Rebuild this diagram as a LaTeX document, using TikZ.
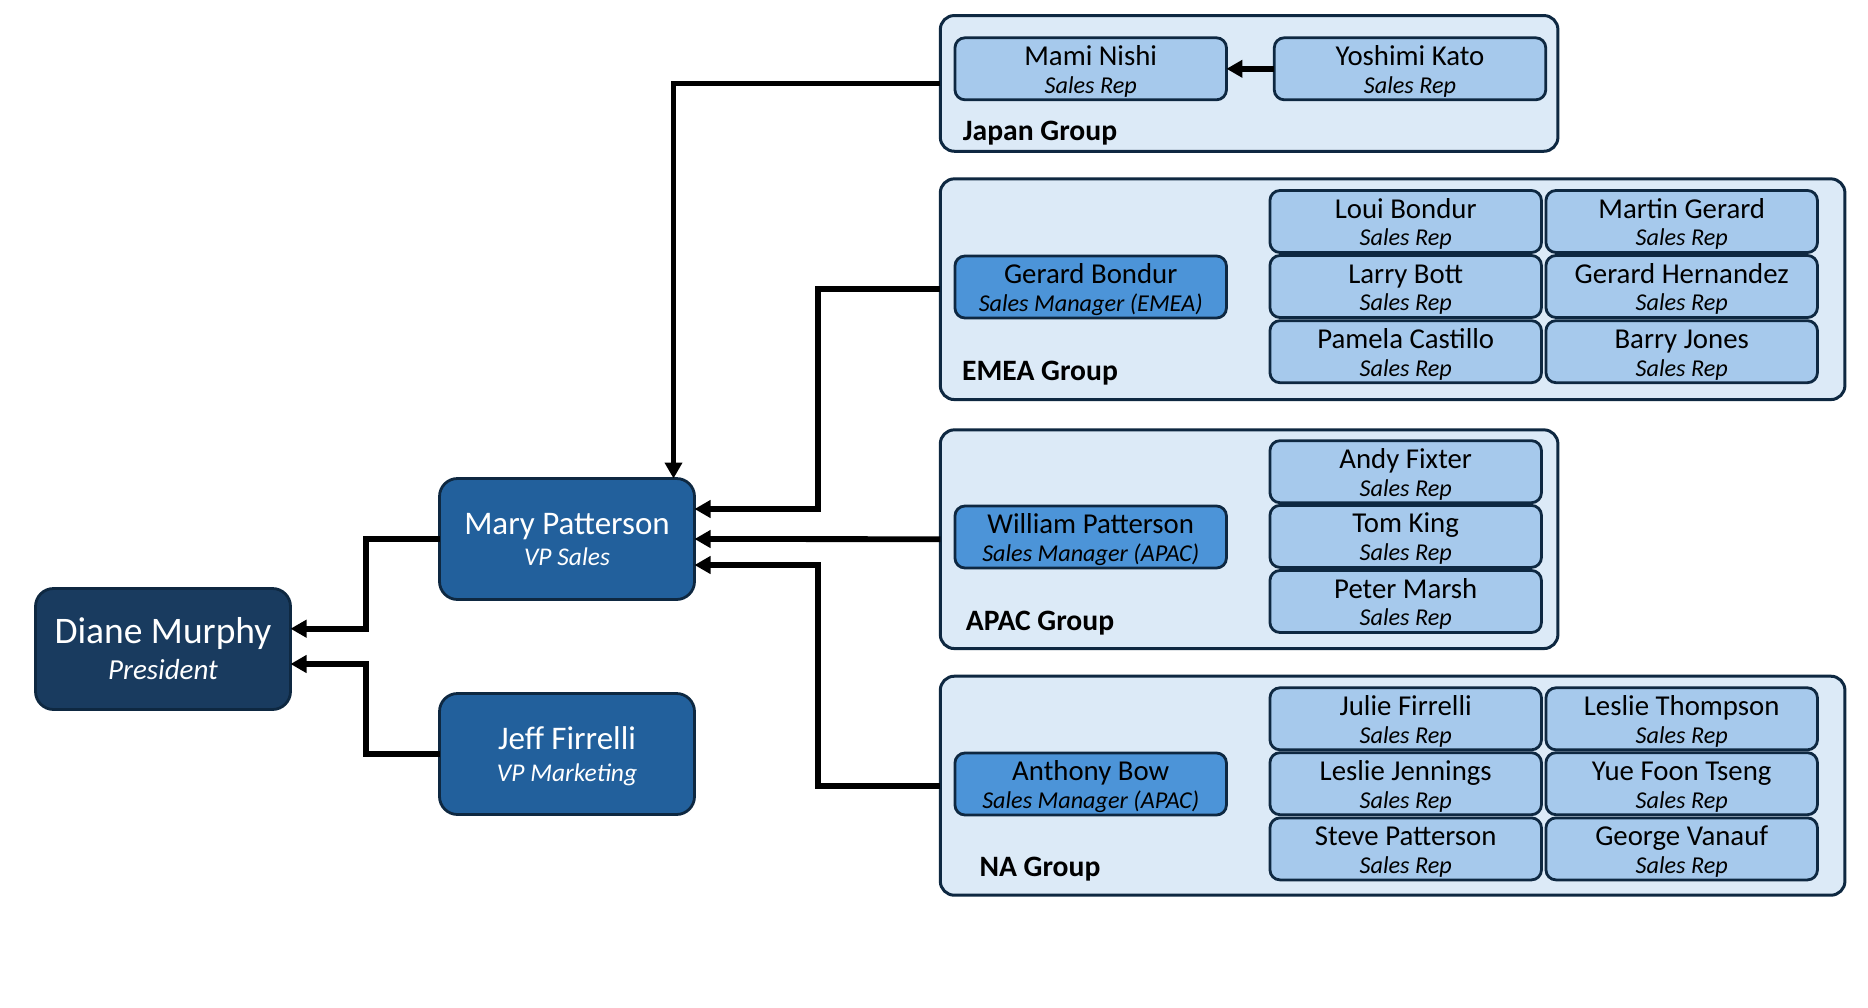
\documentclass[tikz,border=0pt]{standalone}
\usepackage{fontspec}
\setmainfont{Carlito}
\usetikzlibrary{arrows.meta}
\definecolor{pres}{HTML}{193B5F}
\definecolor{vp}{HTML}{22609C}
\definecolor{mgr}{HTML}{4C94D8}
\definecolor{rep}{HTML}{A6C9EC}
\definecolor{grp}{HTML}{DCEAF7}
\definecolor{edgec}{HTML}{0E2841}
\tikzset{
  grpbox/.style={draw=edgec, fill=grp, line width=3pt, rounded corners=14pt, inner sep=0pt, outer sep=0pt},
  smallbox/.style={draw=edgec, line width=2.8pt, rounded corners=10pt, minimum width=271.5pt, minimum height=62pt, inner sep=0pt, outer sep=0pt},
  bigbox/.style={draw=edgec, line width=2.8pt, rounded corners=18pt, minimum width=255pt, minimum height=121pt, inner sep=0pt, outer sep=0pt},
  smalln/.style={anchor=base, inner sep=0pt, font=\fontsize{28.8}{30}\selectfont, text=black},
  smallt/.style={anchor=base, inner sep=0pt, font=\fontsize{24.2}{26}\selectfont\itshape, text=black},
  grplabel/.style={anchor=base, inner sep=0pt, font=\fontsize{29.6}{32}\selectfont\bfseries, text=black},
  conn/.style={line width=5.8pt, draw=black, -{Triangle[length=16pt,width=17pt]}},
}
\newcommand\smallp[5]{%
  \node[smallbox, fill=#2] (#1) at (#3) {};
  \node[smalln] (#1-n) at ([yshift=3.5pt]#1.center) {#4};
  \node[smallt] (#1-t) at ([yshift=-24.3pt]#1.center) {#5};}
\begin{document}
\begin{tikzpicture}[x=1pt,y=-1pt]
\useasboundingbox (0,0) rectangle (1868,1007);
\fill[white] (0,0) rectangle (1868,1007);

% groups
\node[grpbox, minimum width=617.6pt, minimum height=135.7pt] (japan) at (1249.1,83.4) {};
\node[grpbox, minimum width=904.6pt, minimum height=220.7pt] (emea) at (1392.6,289.2) {};
\node[grpbox, minimum width=617.6pt, minimum height=218.7pt] (apac) at (1249.1,539.2) {};
\node[grpbox, minimum width=904.6pt, minimum height=219pt] (na) at (1392.6,785.7) {};
\node[grplabel] (japan-l) at (1040,140) {Japan Group};
\node[grplabel] (emea-l) at (1040,380) {EMEA Group};
\node[grplabel] (apac-l) at (1040,630.7) {APAC Group};
\node[grplabel] (na-l) at (1040,876.7) {NA Group};

% Japan
\smallp{mami}{rep}{1090.7,68.8}{Mami Nishi}{Sales Rep}
\smallp{yoshimi}{rep}{1410,68.8}{Yoshimi Kato}{Sales Rep}

% EMEA
\smallp{gbondur}{mgr}{1090.7,287}{Gerard Bondur}{Sales Manager (EMEA)}
\smallp{loui}{rep}{1405.7,221.5}{Loui Bondur}{Sales Rep}
\smallp{martin}{rep}{1681.7,221.5}{Martin Gerard}{Sales Rep}
\smallp{larry}{rep}{1405.7,286.5}{Larry Bott}{Sales Rep}
\smallp{ghern}{rep}{1681.7,286.5}{Gerard Hernandez}{Sales Rep}
\smallp{pamela}{rep}{1405.7,351.7}{Pamela Castillo}{Sales Rep}
\smallp{barry}{rep}{1681.7,351.7}{Barry Jones}{Sales Rep}

% APAC
\smallp{william}{mgr}{1090.7,537}{William Patterson}{Sales Manager (APAC)}
\smallp{andy}{rep}{1405.7,471.7}{Andy Fixter}{Sales Rep}
\smallp{tom}{rep}{1405.7,536.4}{Tom King}{Sales Rep}
\smallp{peter}{rep}{1405.7,601.5}{Peter Marsh}{Sales Rep}

% NA
\smallp{anthony}{mgr}{1090.7,784}{Anthony Bow}{Sales Manager (APAC)}
\smallp{julie}{rep}{1405.7,718.8}{Julie Firrelli}{Sales Rep}
\smallp{lthomp}{rep}{1681.7,718.8}{Leslie Thompson}{Sales Rep}
\smallp{ljenn}{rep}{1405.7,783.7}{Leslie Jennings}{Sales Rep}
\smallp{yue}{rep}{1681.7,783.7}{Yue Foon Tseng}{Sales Rep}
\smallp{steve}{rep}{1405.7,848.9}{Steve Patterson}{Sales Rep}
\smallp{george}{rep}{1681.7,848.9}{George Vanauf}{Sales Rep}

% executives
\node[bigbox, fill=pres] (diane) at (163,649) {};
\node[anchor=base, inner sep=0pt, text=white, font=\fontsize{37.5}{40}\selectfont] (diane-n) at ([yshift=5.7pt]diane.center) {Diane Murphy};
\node[anchor=base, inner sep=0pt, text=white, font=\fontsize{29}{32}\selectfont\itshape] (diane-t) at ([yshift=-30.7pt]diane.center) {President};

\node[bigbox, fill=vp] (mary) at (567,539) {};
\node[anchor=base, inner sep=0pt, text=white, font=\fontsize{33}{36}\selectfont] (mary-n) at ([yshift=4.3pt]mary.center) {Mary Patterson};
\node[anchor=base, inner sep=0pt, text=white, font=\fontsize{25.5}{28}\selectfont\itshape] (mary-t) at ([yshift=-26.7pt]mary.center) {VP Sales};

\node[bigbox, fill=vp] (jeff) at (567,754) {};
\node[anchor=base, inner sep=0pt, text=white, font=\fontsize{33}{36}\selectfont] (jeff-n) at ([yshift=4.3pt]jeff.center) {Jeff Firrelli};
\node[anchor=base, inner sep=0pt, text=white, font=\fontsize{25.5}{28}\selectfont\itshape] (jeff-t) at ([yshift=-27.3pt]jeff.center) {VP Marketing};

% connectors
\draw[conn] (yoshimi.west) -- (mami.east);
\draw[conn] (japan.west) -| ([xshift=-21pt]mary.north east);
\draw[conn] (emea.west) -- ++(-122,0) |- ([yshift=30pt]mary.east);
\draw[conn] (apac.west) -- (mary.east);
\draw[conn] (na.west) -- ++(-122,0) |- ([yshift=-26pt]mary.east);
\draw[conn] (mary.west) -- ++(-73.5,0) |- ([yshift=20.3pt]diane.east);
\draw[conn] (jeff.west) -- ++(-73.5,0) |- ([yshift=-15pt]diane.east);
\end{tikzpicture}
\end{document}
